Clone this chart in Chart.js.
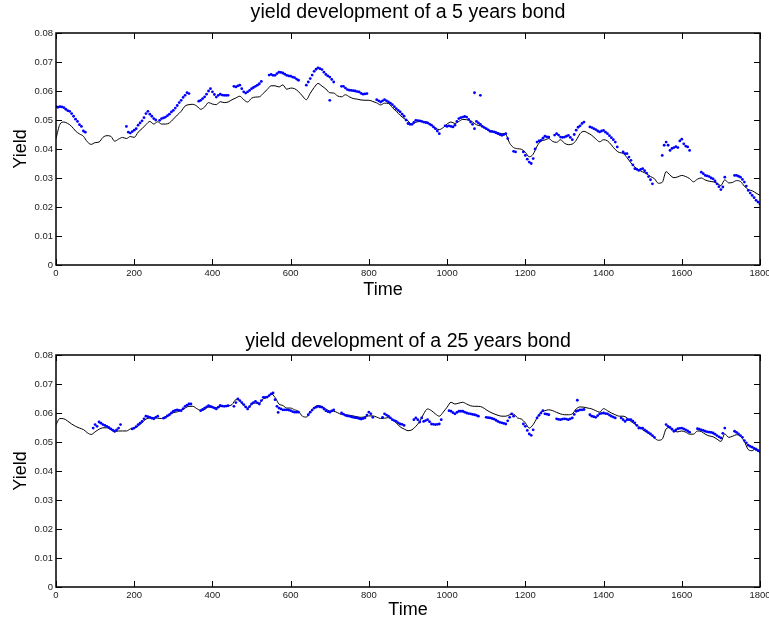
<!DOCTYPE html>
<html>
<head>
<meta charset="utf-8">
<script src="https://cdn.jsdelivr.net/npm/chart.js@4.4.1/dist/chart.umd.min.js"></script>
<style>
  html, body { margin: 0; padding: 0; background: #fff; }
  body { width: 769px; height: 621px; position: relative; overflow: hidden; }
  canvas { position: absolute; left: 0; }
  #top5 { top: 0; }
  #bottom25 { top: 310px; }
</style>
</head>
<body>
<canvas id="top5" width="769" height="310"></canvas>
<canvas id="bottom25" width="769" height="311"></canvas>
<script>
// tick labels
const xTickValues = [0, 200, 400, 600, 800, 1000, 1200, 1400, 1600, 1800];
const yTickValues = [0, 0.01, 0.02, 0.03, 0.04, 0.05, 0.06, 0.07, 0.08];
const yTickLabels = ['0', '0.01', '0.02', '0.03', '0.04', '0.05', '0.06', '0.07', '0.08'];

// model curve, one value every 10 time steps (0..1800)
const lineStep = 10;
const modelYield5 = [
  .0436,.0485,.0493,.0488,.0478,.0462,.0452,.0444,.0425,.0416,
  .0422,.0424,.0440,.0446,.0444,.0427,.0434,.0440,.0436,.0443,
  .0440,.0458,.0470,.0484,.0495,.0486,.0494,.0486,.0486,.0490,
  .0503,.0517,.0530,.0548,.0553,.0554,.0548,.0537,.0545,.0560,
  .0555,.0553,.0563,.0560,.0562,.0570,.0576,.0582,.0570,.0562,
  .0575,.0579,.0580,.0592,.0605,.0618,.0618,.0614,.0621,.0606,
  .0610,.0608,.0598,.0583,.0570,.0592,.0612,.0626,.0617,.0607,
  .0594,.0593,.0583,.0580,.0587,.0580,.0574,.0572,.0569,.0568,
  .0568,.0564,.0559,.0552,.0558,.0557,.0543,.0530,.0516,.0505,
  .0497,.0485,.0492,.0495,.0495,.0492,.0483,.0472,.0467,.0474,
  .0486,.0493,.0488,.0495,.0502,.0501,.0498,.0488,.0481,.0479,
  .0470,.0464,.0460,.0456,.0453,.0450,.0420,.0405,.0401,.0399,
  .0389,.0373,.0382,.0410,.0427,.0431,.0436,.0426,.0423,.0432,
  .0420,.0415,.0417,.0430,.0453,.0461,.0455,.0447,.0435,.0425,
  .0432,.0428,.0414,.0398,.0388,.0385,.0370,.0352,.0338,.0328,
  .0321,.0315,.0305,.0298,.0282,.0285,.0322,.0310,.0301,.0304,
  .0309,.0305,.0298,.0287,.0296,.0300,.0293,.0289,.0287,.0282,
  .0274,.0294,.0283,.0285,.0291,.0288,.0272,.0260,.0256,.0248,
  .0240
];
const modelYield25 = [
  .0560,.0581,.0580,.0572,.0562,.0554,.0548,.0543,.0532,.0526,
  .0535,.0544,.0549,.0549,.0543,.0535,.0538,.0538,.0538,.0545,
  .0549,.0555,.0567,.0579,.0583,.0584,.0582,.0581,.0588,.0596,
  .0601,.0604,.0610,.0617,.0623,.0623,.0615,.0609,.0612,.0620,
  .0620,.0619,.0622,.0623,.0625,.0629,.0646,.0643,.0626,.0617,
  .0631,.0634,.0634,.0649,.0654,.0666,.0654,.0631,.0626,.0617,
  .0617,.0611,.0606,.0589,.0586,.0603,.0619,.0626,.0622,.0614,
  .0607,.0606,.0601,.0595,.0594,.0592,.0590,.0587,.0585,.0587,
  .0590,.0590,.0586,.0581,.0582,.0584,.0577,.0566,.0552,.0545,
  .0539,.0542,.0554,.0571,.0597,.0614,.0608,.0597,.0589,.0603,
  .0620,.0637,.0631,.0634,.0637,.0631,.0625,.0623,.0623,.0620,
  .0611,.0603,.0597,.0592,.0589,.0589,.0594,.0596,.0583,.0579,
  .0566,.0548,.0560,.0583,.0603,.0608,.0611,.0608,.0602,.0597,
  .0594,.0594,.0597,.0614,.0621,.0620,.0617,.0614,.0608,.0603,
  .0615,.0608,.0600,.0594,.0589,.0589,.0583,.0571,.0562,.0554,
  .0542,.0534,.0525,.0514,.0506,.0510,.0545,.0550,.0538,.0535,
  .0538,.0534,.0527,.0527,.0538,.0536,.0527,.0521,.0518,.0510,
  .0502,.0528,.0516,.0520,.0525,.0520,.0502,.0474,.0470,.0479,
  .0462
];

// observed yields, one value every 5 time steps (null = no observation)
const dotStep = 5;
const observedYield5 = [
  .0546,.0544,.0546,.0545,.0543,.0537,.0532,.0530,.0522,.0513,
  .0503,.0495,.0484,.0478,.0462,.0458,null,null,null,null,
  null,null,null,null,null,null,null,null,null,null,
  null,null,null,null,null,null,.0478,.0458,.0455,.0460,
  .0465,.0470,.0482,.0490,.0497,.0508,.0522,.0530,.0520,.0513,
  .0505,.0500,null,.0499,.0505,.0507,.0510,.0515,.0520,.0528,
  .0533,.0541,.0550,.0560,.0568,.0578,.0585,.0594,.0591,null,
  null,null,null,.0565,.0568,.0574,.0580,.0589,.0600,.0608,
  .0597,.0588,.0579,.0585,.0589,.0586,.0585,.0585,.0585,null,
  null,.0616,.0614,.0618,.0620,.0608,.0597,.0593,.0597,.0602,
  .0608,.0612,.0616,.0620,.0625,.0633,null,null,null,.0655,
  .0657,.0654,.0654,.0660,.0665,.0664,.0662,.0658,.0654,.0652,
  .0651,.0648,.0646,.0641,.0637,null,null,null,.0620,.0631,
  .0643,.0655,.0668,.0675,.0680,.0677,.0674,.0665,.0657,.0652,
  .0648,.0640,.0631,null,null,null,.0616,.0616,.0610,.0605,
  .0603,.0602,.0601,.0600,.0598,.0597,.0592,.0589,.0590,.0591,
  null,null,null,null,.0570,.0566,.0562,.0566,.0570,.0566,
  .0562,.0558,.0553,.0546,.0539,.0533,.0528,.0520,.0513,.0500,
  .0488,.0485,.0485,.0492,.0499,.0498,.0497,.0495,.0493,.0491,
  .0490,.0486,.0482,.0476,.0470,.0462,.0453,null,null,.0480,
  .0478,.0480,.0478,.0476,.0482,.0495,.0505,.0508,.0510,.0512,
  .0510,.0502,.0493,.0485,.0470,.0495,.0490,.0485,.0478,.0474,
  .0470,.0466,.0461,.0460,.0459,.0456,.0453,.0450,.0447,.0450,
  .0453,.0436,null,null,.0392,.0390,null,null,null,.0390,
  .0378,.0365,.0355,.0350,.0367,.0400,.0424,.0428,.0430,.0437,
  .0444,.0442,.0441,null,null,.0448,.0453,.0448,.0441,.0440,
  .0441,.0444,.0447,.0440,.0432,.0450,.0465,.0475,.0480,.0488,
  .0493,null,null,.0476,.0474,.0470,.0467,.0462,.0459,.0462,
  .0464,.0458,.0453,.0446,.0439,.0432,.0424,.0407,null,null,
  .0390,.0384,.0384,.0372,.0361,.0345,.0332,.0330,.0326,.0330,
  .0332,.0325,.0317,.0305,.0294,.0280,null,null,null,null,
  .0378,.0413,.0424,.0413,.0395,.0402,.0405,.0408,.0405,.0428,
  .0434,.0418,.0410,.0407,.0395,null,null,null,null,null,
  .0320,.0315,.0309,.0307,.0305,.0300,.0297,.0290,.0280,.0270,
  .0260,.0269,.0303,null,null,null,null,.0309,.0309,.0306,
  .0303,.0295,.0286,.0272,.0257,.0248,.0240,.0232,.0223,.0217,
  .0211
];
const observedYield25 = [
  null,null,null,null,null,null,null,null,null,null,
  null,null,null,null,null,null,null,null,null,.0548,
  .0560,.0554,.0569,.0565,.0560,.0557,.0554,.0550,.0545,.0541,
  .0537,.0542,.0548,.0560,null,null,null,null,null,.0545,
  .0548,.0553,.0560,.0565,.0571,.0580,.0589,.0587,.0585,.0582,
  .0580,.0585,.0589,null,null,.0582,.0585,.0590,.0594,.0600,
  .0606,.0609,.0611,.0609,.0608,.0615,.0623,.0627,.0631,.0631,
  null,null,null,null,.0608,.0612,.0617,.0621,.0625,.0623,
  .0620,.0617,.0614,.0620,.0626,.0624,.0623,.0624,.0625,null,
  null,.0623,.0636,.0649,.0643,.0636,.0629,.0621,.0614,.0622,
  .0631,.0636,.0640,.0635,.0631,.0643,.0654,.0654,.0655,.0660,
  .0666,.0669,.0646,.0623,.0617,.0614,.0611,.0611,.0611,.0610,
  .0608,.0605,.0603,.0603,.0603,null,null,null,null,.0594,
  .0603,.0610,.0617,.0620,.0623,.0621,.0620,.0614,.0608,.0605,
  .0603,.0607,.0611,null,null,null,.0600,.0596,.0592,.0590,
  .0589,.0587,.0585,.0584,.0583,.0581,.0579,.0581,.0583,.0593,
  .0603,.0597,.0585,null,null,null,null,.0585,.0597,.0593,
  .0589,.0583,.0577,.0574,.0571,.0566,.0562,.0561,.0557,null,
  null,null,null,.0577,.0583,.0577,.0569,.0583,.0571,.0574,
  .0577,.0570,.0562,.0561,.0560,.0561,.0562,.0577,null,null,
  null,.0608,.0606,.0601,.0597,.0602,.0606,.0606,.0606,.0603,
  .0600,.0598,.0597,.0595,.0594,.0592,.0589,null,null,null,
  .0585,.0584,.0583,.0581,.0579,.0575,.0571,.0568,.0566,.0564,
  .0562,.0573,.0585,.0597,.0589,null,null,null,null,.0562,
  .0554,.0540,.0528,.0523,.0542,null,.0583,.0592,.0600,.0608,
  .0597,.0596,.0594,null,null,null,.0580,.0578,.0577,.0579,
  .0580,.0579,.0577,.0580,.0583,.0595,.0606,.0608,.0611,.0611,
  .0612,null,null,.0594,.0589,.0587,.0585,.0591,.0597,.0599,
  .0600,.0598,.0597,.0593,.0589,.0586,.0583,null,null,.0583,
  .0577,.0571,.0577,.0577,.0577,.0572,.0566,.0557,.0548,.0548,
  .0548,.0542,.0537,.0532,.0528,.0522,.0516,null,null,null,
  null,null,.0560,.0554,.0550,.0544,.0537,.0542,.0546,.0547,
  .0548,.0545,.0542,.0538,.0534,null,null,null,.0546,.0544,
  .0542,.0540,.0537,.0535,.0534,.0533,.0531,.0527,.0522,.0518,
  .0514,.0530,.0548,null,null,null,null,.0537,.0533,.0528,
  .0522,.0516,.0505,.0497,.0489,.0485,.0482,.0478,.0474,.0470,
  .0466
];

// isolated observations off the regular grid
const outlierTime5 = [700, 1070, 1085];
const outlierYield5 = [0.0568, 0.0594, 0.0585];
const outlierTime25 = [1333, 568];
const outlierYield25 = [0.0644, 0.0602];

const FONT = 'Liberation Sans, Arial, Helvetica, sans-serif';

// MATLAB-like box with inward ticks on all four sides
const boxTicks = {
  id: 'boxTicks',
  afterDraw(chart) {
    const { ctx, chartArea: a, scales: { x, y } } = chart;
    const len = 6;
    ctx.save();
    ctx.strokeStyle = '#000';
    ctx.lineWidth = 1;
    ctx.beginPath();
    x.ticks.forEach(t => {
      const px = Math.round(x.getPixelForValue(t.value)) + 0.5;
      ctx.moveTo(px, a.bottom); ctx.lineTo(px, a.bottom - len);
      ctx.moveTo(px, a.top); ctx.lineTo(px, a.top + len);
    });
    y.ticks.forEach(t => {
      const py = Math.round(y.getPixelForValue(t.value)) + 0.5;
      ctx.moveTo(a.left, py); ctx.lineTo(a.left + len, py);
      ctx.moveTo(a.right, py); ctx.lineTo(a.right - len, py);
    });
    ctx.stroke();
    ctx.lineWidth = 1.5;
    ctx.strokeRect(a.left, a.top, a.right - a.left, a.bottom - a.top);
    ctx.restore();
  }
};

// title and x label centred over the axes box (MATLAB style)
const axesText = {
  id: 'axesText',
  afterDraw(chart, args, opts) {
    const { ctx, chartArea: a } = chart;
    const cx = (a.left + a.right) / 2;
    ctx.save();
    ctx.fillStyle = '#000';
    ctx.textAlign = 'center';
    ctx.textBaseline = 'middle';
    ctx.font = '19.6px ' + FONT;
    ctx.fillText(opts.title, cx, opts.titleY);
    ctx.font = '18px ' + FONT;
    ctx.fillText('Time', cx + opts.timeShift, opts.timeY);
    ctx.restore();
  }
};

const toPoints = (vals, step) =>
  vals.map((v, i) => ({ x: i * step, y: v })).filter(p => p.y !== null);

function makeChart(id, titleText, model, observed, outT, outY, lay) {
  const dots = toPoints(observed, dotStep).concat(outT.map((t, i) => ({ x: t, y: outY[i] })));
  return new Chart(document.getElementById(id), {
    data: {
      datasets: [
        {
          type: 'scatter',
          data: dots,
          backgroundColor: '#0000ff',
          borderWidth: 0,
          pointRadius: 1.4,
          pointHoverRadius: 1.4
        },
        {
          type: 'line',
          data: toPoints(model, lineStep),
          borderColor: '#000',
          borderWidth: 1,
          pointRadius: 0,
          cubicInterpolationMode: 'monotone',
          fill: false
        }
      ]
    },
    options: {
      responsive: false,
      animation: false,
      layout: { padding: { left: 0, right: 9, top: lay.top, bottom: 0 } },
      plugins: {
        legend: { display: false },
        tooltip: { enabled: false },
        title: { display: false },
        axesText: { title: titleText, titleY: lay.titleY, timeY: lay.timeY, timeShift: lay.timeShift }
      },
      scales: {
        x: {
          type: 'linear',
          min: 0,
          max: 1800,
          grid: { display: false, drawTicks: false },
          border: { display: false },
          afterBuildTicks: s => { s.ticks = xTickValues.map(v => ({ value: v })); },
          ticks: {
            color: '#222',
            padding: 3,
            maxRotation: 0,
            font: { family: FONT, size: 9.5 },
            callback: v => String(v)
          },
          afterFit: s => { s.height = lay.xBox; s.paddingLeft = 0; s.paddingRight = 0; }
        },
        y: {
          type: 'linear',
          min: 0,
          max: 0.08,
          grid: { display: false, drawTicks: false },
          border: { display: false },
          afterBuildTicks: s => { s.ticks = yTickValues.map(v => ({ value: v })); },
          ticks: {
            color: '#222',
            padding: 3,
            font: { family: FONT, size: 9.5 },
            callback: (v, i) => yTickLabels[i]
          },
          title: {
            display: true,
            text: 'Yield',
            color: '#000',
            font: { family: FONT, size: 18 },
            padding: { top: 10.5, bottom: 0 }
          },
          afterFit: s => { s.width = 56; s.paddingTop = 0; s.paddingBottom = 0; }
        }
      }
    },
    plugins: [boxTicks, axesText]
  });
}

makeChart('top5', 'yield development of a 5 years bond', modelYield5, observedYield5,
  outlierTime5, outlierYield5, { top: 33, xBox: 45, titleY: 12.5, timeY: 290, timeShift: -25 });
makeChart('bottom25', 'yield development of a 25 years bond', modelYield25, observedYield25,
  outlierTime25, outlierYield25, { top: 45, xBox: 34, titleY: 32, timeY: 300, timeShift: 0 });
</script>
</body>
</html>
